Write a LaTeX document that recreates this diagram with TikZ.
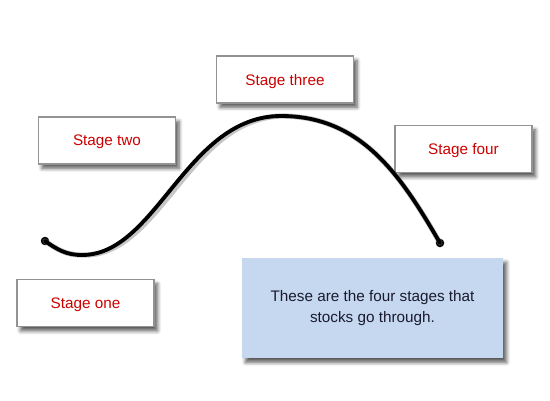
\documentclass[tikz,border=0pt]{standalone}
\usepackage{fontspec}
\setmainfont{Liberation Sans}
\usetikzlibrary{positioning,shadows.blur}
\definecolor{stagered}{HTML}{CC0000}
\definecolor{notefill}{HTML}{C6D8F0}
\definecolor{notetext}{HTML}{1A1A2E}
\tikzset{
  stagebox/.style = {rectangle, draw=gray!85, fill=white, line width=0.6pt,
    minimum width=2.74cm, minimum height=0.94cm, inner sep=0pt,
    text depth=0pt, font=\fontsize{8.7}{11}\selectfont, text=stagered,
    blur shadow={shadow xshift=2pt, shadow yshift=-2.5pt,
      shadow blur steps=6, shadow opacity=65}},% the four stage labels
  notebox/.style = {rectangle, fill=notefill, align=center,
    minimum width=5.22cm, minimum height=2cm, inner sep=0pt,
    font=\fontsize{8.7}{11.5}\selectfont, text=notetext,
    blur shadow={shadow xshift=2pt, shadow yshift=-2.5pt,
      shadow blur steps=6, shadow opacity=65}},% explanation
  curvedot/.style = {circle, fill=black, inner sep=0pt, minimum size=0.17cm},
  curveline/.style = {line width=2.2pt, line cap=round},
  curveshade/.style = {line width=3pt, line cap=round, gray, opacity=0.45}
}

\begin{document}
\begin{tikzpicture}[x=0.02cm, y=-0.02cm]
\useasboundingbox (0,0) rectangle (550,400);
% stage labels
\node [stagebox] (one)   at (85.5,303)  {Stage one};
\node [stagebox] (two)   at (107,140.5) {Stage two};
\node [stagebox] (three) at (285,79.5)  {Stage three};
\node [stagebox] (four)  at (463.5,149) {Stage four};
\node [notebox]  (note)  at (372.5,308)
  {These are the four stages that\\stocks go through.};
% the curve
\coordinate (low) at (82,255);
\coordinate (top) at (281,116);
\node [curvedot] (start) at (45,241) {};
\node [curvedot] (end)   at (440,243) {};
\begin{scope}[shift={(2.5,3)}]
  \draw [curveshade] (start.center) to[out=-35,in=180] (low)
    .. controls (157,255) and (186,116) .. (top)
    to[out=0,in=120] (end.center);
\end{scope}
\draw [curveline] (start.center) to[out=-35,in=180] (low)
  .. controls (157,255) and (186,116) .. (top)
  to[out=0,in=120] (end.center);
\end{tikzpicture}
\end{document}
